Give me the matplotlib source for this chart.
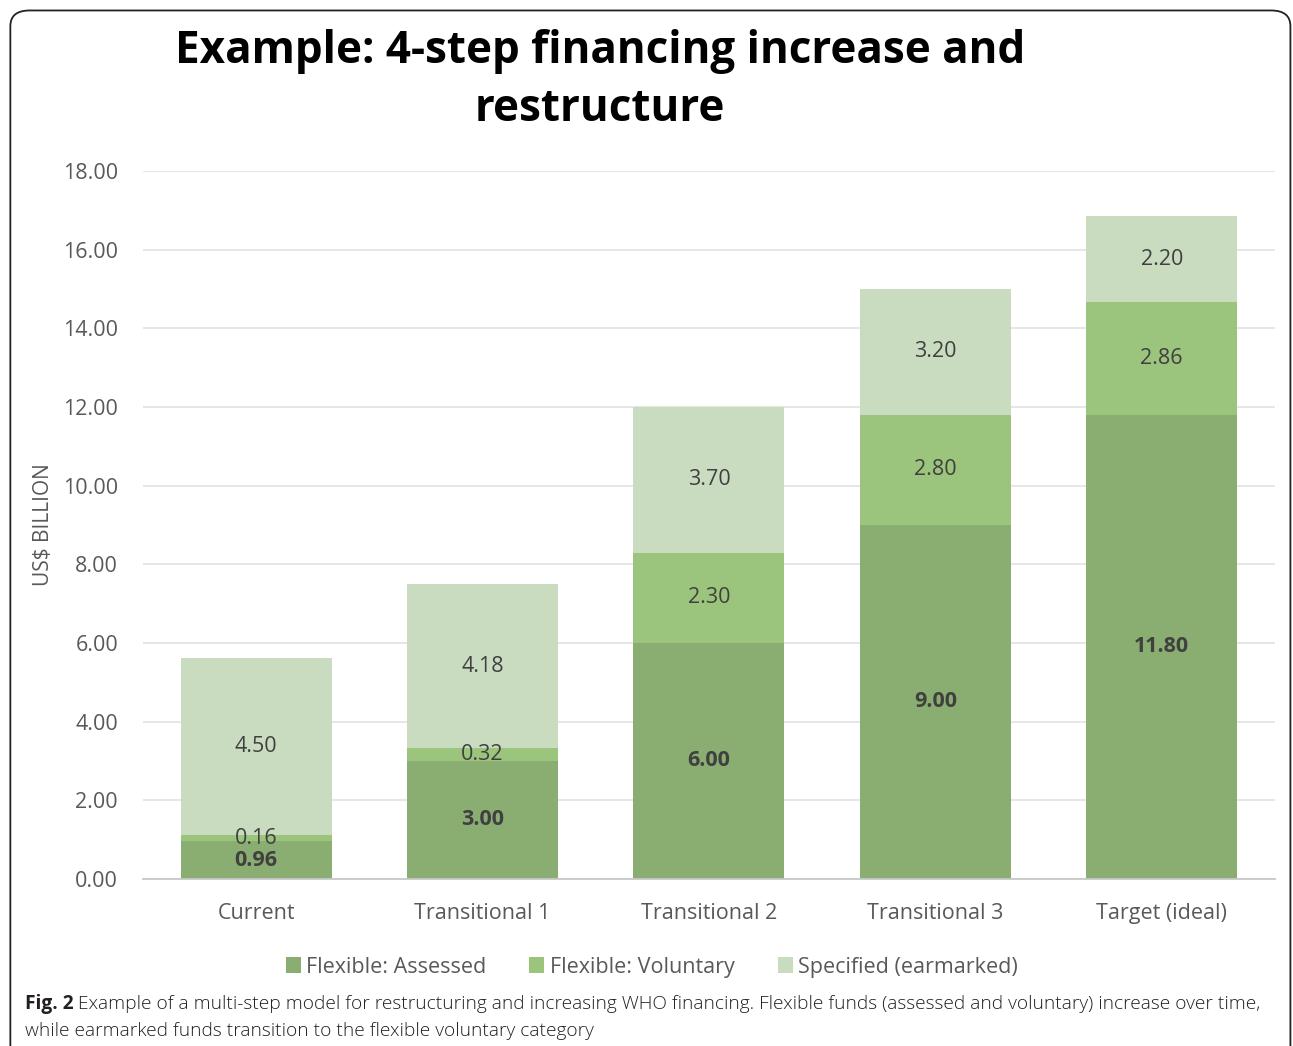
import matplotlib.pyplot as plt
from matplotlib.patches import FancyBboxPatch
import numpy as np

plt.rcParams['font.family'] = ['Open Sans', 'DejaVu Sans']

categories = ['Current', 'Transitional 1', 'Transitional 2', 'Transitional 3', 'Target (ideal)']
assessed = [0.96, 3.00, 6.00, 9.00, 11.80]
voluntary = [0.16, 0.32, 2.30, 2.80, 2.86]
specified = [4.50, 4.18, 3.70, 3.20, 2.20]
yticks = [0, 2, 4, 6, 8, 10, 12, 14, 16, 18]

c_ass = '#8aae72'
c_vol = '#9bc47c'
c_spec = '#c9dcc0'
txt = '#404040'

fig = plt.figure(figsize=(12.93, 10.46), dpi=100)
ax = fig.add_axes([0.1106, 0.1597, 0.8754, 0.6768])

x = np.arange(len(categories))
w = 0.667
b1 = ax.bar(x, assessed, w, color=c_ass, label='Flexible: Assessed', zorder=2)
b2 = ax.bar(x, voluntary, w, bottom=assessed, color=c_vol, label='Flexible: Voluntary', zorder=2)
bot3 = np.array(assessed) + np.array(voluntary)
b3 = ax.bar(x, specified, w, bottom=bot3, color=c_spec, label='Specified (earmarked)', zorder=2)

for i in range(len(x)):
    if i == 0:
        # small segments: labels stacked just above each other
        ax.text(x[i], 0.46, '%.2f' % assessed[i], ha='center', va='center',
                fontsize=15.5, fontweight='bold', color=txt, zorder=3)
        ax.text(x[i], 1.02, '%.2f' % voluntary[i], ha='center', va='center',
                fontsize=15.5, color=txt, zorder=3)
    else:
        ax.text(x[i], assessed[i] / 2, '%.2f' % assessed[i], ha='center', va='center',
                fontsize=15.5, fontweight='bold', color=txt, zorder=3)
        ax.text(x[i], assessed[i] + voluntary[i] / 2, '%.2f' % voluntary[i], ha='center', va='center',
                fontsize=15.5, color=txt, zorder=3)
    ax.text(x[i], bot3[i] + specified[i] / 2, '%.2f' % specified[i], ha='center', va='center',
            fontsize=15.5, color=txt, zorder=3)

ax.set_xlim(-0.5, 4.5)
ax.set_ylim(0, 18)
ax.set_yticks(yticks)
ax.set_yticklabels(['%.2f' % t for t in yticks])
ax.set_xticks(x)
ax.set_xticklabels(categories)
ax.tick_params(axis='both', length=0, labelsize=15.5, labelcolor='#595959')
ax.tick_params(axis='x', pad=17.5)
ax.tick_params(axis='y', pad=18)
ax.grid(axis='y', color='#e4e4e4', linewidth=1.3, zorder=0)
for s in ['top', 'right', 'left']:
    ax.spines[s].set_visible(False)
ax.spines['bottom'].set_color('#c8c8c8')
ax.spines['bottom'].set_linewidth(1.3)
ax.set_ylabel('US$ BILLION', fontsize=15, color='#595959')
ax.yaxis.set_label_coords(-0.079, 0.5)

fig.text(0.464, 0.951, 'Example: 4-step financing increase and', ha='center', va='center',
         fontsize=31.7, fontweight='bold', color='black')
fig.text(0.464, 0.895, 'restructure', ha='center', va='center',
         fontsize=31.7, fontweight='bold', color='black')

fig.legend(handles=[b1, b2, b3], loc='center', bbox_to_anchor=(0.504, 0.0755), ncol=3,
           frameon=False, fontsize=15.5, labelcolor='#595959', handlelength=0.7,
           handleheight=0.7, handletextpad=0.25, columnspacing=2.0)

cap1 = fig.text(0.019, 0.040, 'Fig. 2', fontsize=13.8, color='#231f20', va='center', fontweight='bold')
fig.canvas.draw()
bb = cap1.get_window_extent()
x1 = (bb.x1 + 5) / fig.bbox.width
fig.text(x1, 0.040, 'Example of a multi-step model for restructuring and increasing WHO financing. '
         'Flexible funds (assessed and voluntary) increase over time,',
         fontsize=13.8, color='#231f20', va='center', fontweight='light')
fig.text(0.019, 0.014, 'while earmarked funds transition to the flexible voluntary category',
         fontsize=13.8, color='#231f20', va='center', fontweight='light')

border = FancyBboxPatch((0.008, -0.05), 0.99, 1.04, boxstyle='round,pad=0,rounding_size=0.015',
                        transform=fig.transFigure, fill=False, edgecolor='#222222', linewidth=1.3)
fig.patches.append(border)

fig.savefig('out.png', dpi=100)
